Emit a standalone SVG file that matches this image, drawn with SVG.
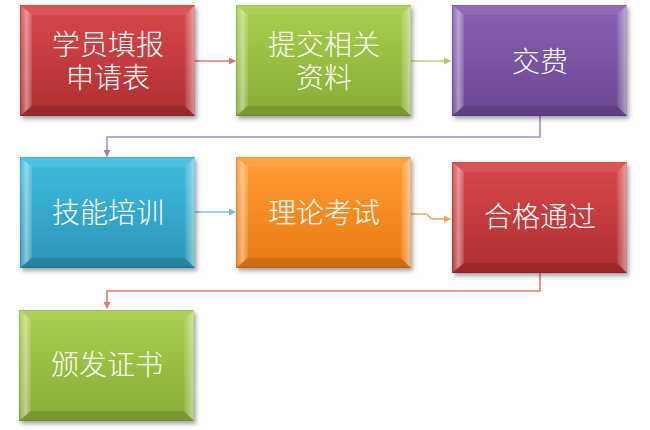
<svg xmlns="http://www.w3.org/2000/svg" xmlns:xlink="http://www.w3.org/1999/xlink" width="650" height="430" viewBox="0 0 650 430">
<style>
.lbl{font-family:"Liberation Sans","Noto Sans CJK SC",sans-serif;font-size:28px;font-weight:300;fill:#ffffff;text-anchor:middle;}
.con{fill:none;stroke-width:1.6;}
</style>
<defs>
<filter id="sh" x="-10%" y="-10%" width="125%" height="130%">
<feDropShadow dx="2" dy="3" stdDeviation="2" flood-color="#000" flood-opacity="0.35"/>
</filter>
<linearGradient id="gRed" x1="0" y1="0" x2="0" y2="1"><stop offset="0" stop-color="#D9484A"/><stop offset="1" stop-color="#AE2E30"/></linearGradient>
<linearGradient id="gGreen" x1="0" y1="0" x2="0" y2="1"><stop offset="0" stop-color="#A9CE4B"/><stop offset="1" stop-color="#88AC37"/></linearGradient>
<linearGradient id="gPurple" x1="0" y1="0" x2="0" y2="1"><stop offset="0" stop-color="#8861B1"/><stop offset="1" stop-color="#694693"/></linearGradient>
<linearGradient id="gBlue" x1="0" y1="0" x2="0" y2="1"><stop offset="0" stop-color="#3FBCE0"/><stop offset="1" stop-color="#2B95B6"/></linearGradient>
<linearGradient id="gOrange" x1="0" y1="0" x2="0" y2="1"><stop offset="0" stop-color="#FF9C34"/><stop offset="1" stop-color="#EA7B14"/></linearGradient>
<linearGradient id="lbev" x1="0" y1="0" x2="1" y2="0"><stop offset="0" stop-color="#fff" stop-opacity="0.05"/><stop offset="0.55" stop-color="#fff" stop-opacity="0.45"/><stop offset="1" stop-color="#fff" stop-opacity="0.12"/></linearGradient>
<linearGradient id="rbev" x1="0" y1="0" x2="1" y2="0"><stop offset="0" stop-color="#fff" stop-opacity="0.08"/><stop offset="1" stop-color="#fff" stop-opacity="0.5"/></linearGradient>
<g id="bevel">
<polygon points="0,0 175,0 165,10 10,10" fill="#fff" fill-opacity="0.08"/>
<polygon points="0,111 175,111 165,101 10,101" fill="#000" fill-opacity="0.12"/>
<polygon points="0,0 12,10 12,101 0,111" fill="url(#lbev)"/>
<polygon points="175,0 165,10 165,101 175,111" fill="url(#rbev)"/>
<rect x="0.3" y="0.3" width="174.4" height="110.4" fill="none" stroke="#000" stroke-opacity="0.15" stroke-width="0.6"/>
</g>
<marker id="aRed" markerUnits="userSpaceOnUse" markerWidth="7" markerHeight="7" refX="6" refY="3.5" orient="auto"><path d="M0,0 L7,3.5 L0,7 z" fill="#D8787A"/></marker>
<marker id="aGreen" markerUnits="userSpaceOnUse" markerWidth="7" markerHeight="7" refX="6" refY="3.5" orient="auto"><path d="M0,0 L7,3.5 L0,7 z" fill="#A9CB6E"/></marker>
<marker id="aPurple" markerUnits="userSpaceOnUse" markerWidth="7" markerHeight="7" refX="6" refY="3.5" orient="auto"><path d="M0,0 L7,3.5 L0,7 z" fill="#9C7BC2"/></marker>
<marker id="aBlue" markerUnits="userSpaceOnUse" markerWidth="7" markerHeight="7" refX="6" refY="3.5" orient="auto"><path d="M0,0 L7,3.5 L0,7 z" fill="#72BFD8"/></marker>
<marker id="aOrange" markerUnits="userSpaceOnUse" markerWidth="7" markerHeight="7" refX="6" refY="3.5" orient="auto"><path d="M0,0 L7,3.5 L0,7 z" fill="#F5A35C"/></marker>
</defs>

<g id="connectors">
<path class="con" d="M195,61 H235" stroke="#D8787A" marker-end="url(#aRed)"/>
<path class="con" d="M411,61 H450" stroke="#B3D27A" marker-end="url(#aGreen)"/>
<path class="con" d="M540,116 V137 H107 V156" stroke="#AA8CCB" marker-end="url(#aPurple)"/>
<path class="con" d="M195,212 H235" stroke="#78C2DA" marker-end="url(#aBlue)"/>
<path class="con" d="M411,214 H426 C429,214 429,219 432,219 H450" stroke="#F5A35C" marker-end="url(#aOrange)"/>
<path class="con" d="M540,273 V291 H107 V308" stroke="#E07A7C" marker-end="url(#aRed)"/>
</g>

<g id="n1">
<rect x="20" y="5" width="175" height="111" fill="url(#gRed)" filter="url(#sh)"/>
<use xlink:href="#bevel" x="20" y="5"/>
<text class="lbl" x="108" y="55">学员填报<tspan x="108" dy="33">申请表</tspan></text>
</g>
<g id="n2">
<rect x="236" y="5" width="175" height="111" fill="url(#gGreen)" filter="url(#sh)"/>
<use xlink:href="#bevel" x="236" y="5"/>
<text class="lbl" x="324" y="55">提交相关<tspan x="324" dy="33">资料</tspan></text>
</g>
<g id="n3">
<rect x="452" y="5" width="175" height="111" fill="url(#gPurple)" filter="url(#sh)"/>
<use xlink:href="#bevel" x="452" y="5"/>
<text class="lbl" x="540" y="72">交费</text>
</g>
<g id="n4">
<rect x="20" y="157" width="175" height="111" fill="url(#gBlue)" filter="url(#sh)"/>
<use xlink:href="#bevel" x="20" y="157"/>
<text class="lbl" x="108" y="223">技能培训</text>
</g>
<g id="n5">
<rect x="236" y="157" width="175" height="111" fill="url(#gOrange)" filter="url(#sh)"/>
<use xlink:href="#bevel" x="236" y="157"/>
<text class="lbl" x="324" y="223">理论考试</text>
</g>
<g id="n6">
<rect x="452" y="162" width="175" height="111" fill="url(#gRed)" filter="url(#sh)"/>
<use xlink:href="#bevel" x="452" y="162"/>
<text class="lbl" x="540" y="227">合格通过</text>
</g>
<g id="n7">
<rect x="19" y="310" width="175" height="111" fill="url(#gGreen)" filter="url(#sh)"/>
<use xlink:href="#bevel" x="19" y="310"/>
<text class="lbl" x="107" y="375">颁发证书</text>
</g>
</svg>
